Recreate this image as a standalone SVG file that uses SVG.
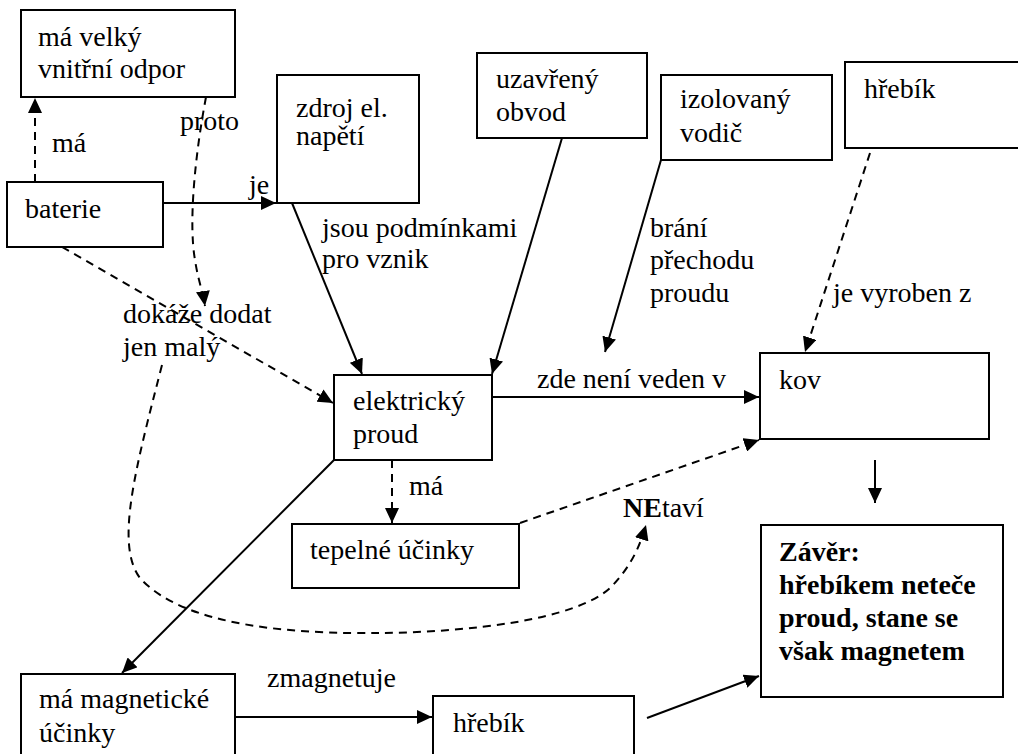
<svg xmlns="http://www.w3.org/2000/svg" width="1018" height="754" viewBox="0 0 1018 754">
<style>
.box{fill:#fff;stroke:#000;stroke-width:2}
text{font-family:"Liberation Serif",serif;font-size:28px;fill:#000}
.b{font-weight:bold}
.s{fill:none;stroke:#000;stroke-width:2}
.d{fill:none;stroke:#000;stroke-width:2;stroke-dasharray:8 6}
</style>
<defs>
<marker id="ah" markerUnits="userSpaceOnUse" markerWidth="16" markerHeight="14" refX="15" refY="7" orient="auto">
<path d="M0,0 L15,7 L0,14 Z" fill="#000"/>
</marker>
</defs>
<rect width="1018" height="754" fill="#fff"/>

<g id="connectors">
<line class="d" x1="35" y1="182" x2="35" y2="98" marker-end="url(#ah)"/>
<path class="d" d="M206,97 C196,150 188,220 195,260 C198,280 203,292 205,306" marker-end="url(#ah)"/>
<line class="s" x1="163" y1="203" x2="276" y2="203" marker-end="url(#ah)"/>
<line class="d" x1="62" y1="247" x2="333" y2="403" marker-end="url(#ah)"/>
<line class="s" x1="292" y1="203" x2="362" y2="374" marker-end="url(#ah)"/>
<line class="s" x1="562" y1="138" x2="492" y2="374" marker-end="url(#ah)"/>
<line class="s" x1="661" y1="160" x2="605" y2="352" marker-end="url(#ah)"/>
<line class="d" x1="870" y1="153" x2="805" y2="352" marker-end="url(#ah)"/>
<line class="s" x1="492" y1="397" x2="759" y2="397" marker-end="url(#ah)"/>
<line class="s" x1="875" y1="460" x2="875" y2="503" marker-end="url(#ah)"/>
<line class="d" x1="392" y1="460" x2="392" y2="523" marker-end="url(#ah)"/>
<line class="d" x1="520" y1="523" x2="759" y2="440" marker-end="url(#ah)"/>
<path class="d" d="M162,365 C135,470 115,545 140,578 C185,628 300,634 380,633 C470,632 575,620 610,588 C632,566 640,545 646,525" marker-end="url(#ah)"/>
<line class="s" x1="334" y1="460" x2="122" y2="673" marker-end="url(#ah)"/>
<line class="s" x1="235" y1="717" x2="432" y2="717" marker-end="url(#ah)"/>
<line class="s" x1="647" y1="718" x2="759" y2="676" marker-end="url(#ah)"/>
</g>

<g id="labels">
<text x="52" y="152">má</text>
<text x="180" y="130">proto</text>
<text x="249" y="194">je</text>
<text x="322" y="237">jsou podmínkami</text>
<text x="322" y="268">pro vznik</text>
<text x="123" y="323">dokáže dodat</text>
<text x="123" y="356">jen malý</text>
<text x="650" y="237">brání</text>
<text x="650" y="269">přechodu</text>
<text x="650" y="302">proudu</text>
<text x="833" y="302">je vyroben z</text>
<text x="537" y="388">zde není veden v</text>
<text x="409" y="495">má</text>
<text x="623" y="517"><tspan class="b">NE</tspan>taví</text>
<text x="267" y="687">zmagnetuje</text>
</g>

<g id="n-odpor">
<rect class="box" x="21" y="10" width="214" height="87"/>
<text x="38" y="46">má velký</text>
<text x="38" y="78">vnitřní odpor</text>
</g>
<g id="n-baterie">
<rect class="box" x="7" y="182" width="156" height="65"/>
<text x="25" y="218">baterie</text>
</g>
<g id="n-zdroj">
<rect class="box" x="277" y="75" width="142" height="128"/>
<text x="296" y="117">zdroj el.</text>
<text x="296" y="145">napětí</text>
</g>
<g id="n-uzavreny">
<rect class="box" x="477" y="53" width="170" height="85"/>
<text x="496" y="88">uzavřený</text>
<text x="496" y="121">obvod</text>
</g>
<g id="n-izolovany">
<rect class="box" x="661" y="75" width="171" height="85"/>
<text x="680" y="108">izolovaný</text>
<text x="680" y="142">vodič</text>
</g>
<g id="n-hrebik1">
<rect class="box" x="845" y="62" width="180" height="86"/>
<text x="864" y="98">hřebík</text>
</g>
<g id="n-proud">
<rect class="box" x="334" y="375" width="158" height="85"/>
<text x="353" y="410">elektrický</text>
<text x="353" y="443">proud</text>
</g>
<g id="n-kov">
<rect class="box" x="760" y="353" width="229" height="86"/>
<text x="779" y="389">kov</text>
</g>
<g id="n-tepelne">
<rect class="box" x="292" y="524" width="227" height="64"/>
<text x="310" y="559">tepelné účinky</text>
</g>
<g id="n-zaver">
<rect class="box" x="761" y="525" width="242" height="172"/>
<text class="b" x="779" y="561">Závěr:</text>
<text class="b" x="779" y="594">hřebíkem neteče</text>
<text class="b" x="779" y="627">proud, stane se</text>
<text class="b" x="779" y="660">však magnetem</text>
</g>
<g id="n-magnet">
<rect class="box" x="21" y="674" width="214" height="90"/>
<text x="39" y="708">má magnetické</text>
<text x="39" y="742">účinky</text>
</g>
<g id="n-hrebik2">
<rect class="box" x="433" y="696" width="201" height="70"/>
<text x="453" y="732">hřebík</text>
</g>
</svg>
